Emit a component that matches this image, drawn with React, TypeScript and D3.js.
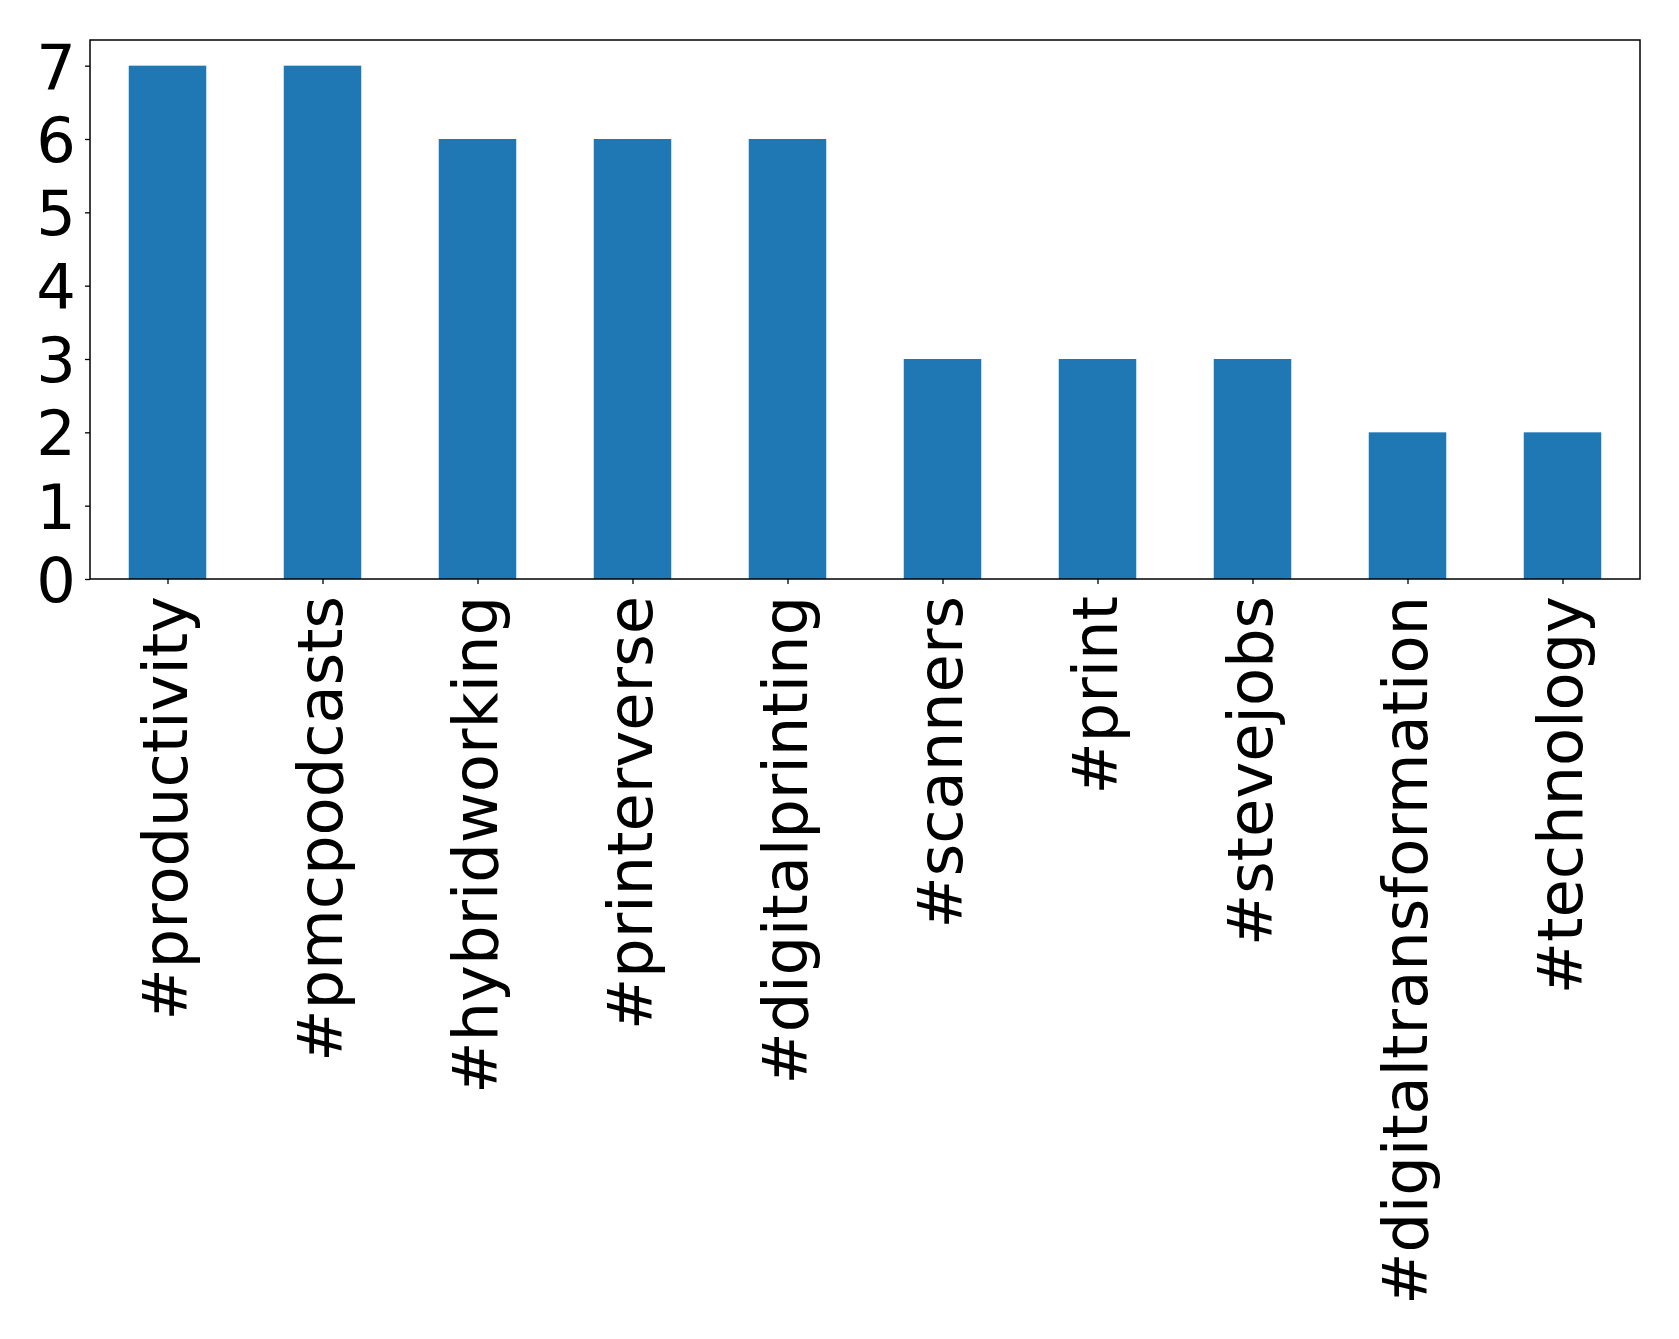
import React, { useEffect, useRef } from 'react'
import * as d3 from "d3";

const hashtags = [
  "#productivity",
  "#pmcpodcasts",
  "#hybridworking",
  "#printerverse",
  "#digitalprinting",
  "#scanners",
  "#print",
  "#stevejobs",
  "#digitaltransformation",
  "#technology",
]
const counts = [7, 7, 6, 6, 6, 3, 3, 3, 2, 2]
const yTicks = [0, 1, 2, 3, 4, 5, 6, 7]

const dimensions = {
  width: 1679,
  height: 1339,
  margin: { top: 40, right: 39, bottom: 760, left: 90 },
}
const boundedWidth = dimensions.width - dimensions.margin.left - dimensions.margin.right
const boundedHeight = dimensions.height - dimensions.margin.top - dimensions.margin.bottom
const fontSize = 62.3
const font = "DejaVu Sans, sans-serif"

const App = () => {
  const axisRef = useRef<SVGGElement>(null)

  useEffect(() => {
    document.body.style.margin = "0"
  }, [])

  // pandas-like layout: xlim (-0.5, n-0.5), bar width 0.5
  const xScale = d3.scaleLinear()
    .domain([-0.5, hashtags.length - 0.5])
    .range([0, boundedWidth])
  const barWidth = xScale(0.5) - xScale(0)

  const yScale = d3.scaleLinear()
    .domain([0, d3.max(counts)! * 1.05])
    .range([boundedHeight, 0])

  useEffect(() => {
    if (!axisRef.current) return
    const g = d3.select(axisRef.current)
    g.selectAll("*").remove()

    const yAxis = g.append("g")
      .call(d3.axisLeft(yScale).tickValues(yTicks).tickFormat(d3.format("d")).tickSize(5).tickPadding(9))
    yAxis.select(".domain").remove()
    yAxis.selectAll("line").attr("stroke", "#000").attr("stroke-width", 1.3)
    yAxis.selectAll("text")
      .attr("font-size", fontSize)
      .attr("font-family", font)
      .attr("fill", "#000")
      .attr("dy", "0.36em")

    const xAxis = g.append("g")
      .attr("transform", `translate(0,${boundedHeight})`)
      .call(d3.axisBottom(xScale).tickValues(d3.range(hashtags.length)).tickFormat(() => "").tickSize(5))
    xAxis.select(".domain").remove()
    xAxis.selectAll("line").attr("stroke", "#000").attr("stroke-width", 1.3)
  }, [])

  return (
    <svg width={dimensions.width} height={dimensions.height} style={{ display: "block", background: "#fff" }}>
      <g transform={`translate(${dimensions.margin.left},${dimensions.margin.top})`}>
        {counts.map((c, i) => (
          <rect
            key={hashtags[i]}
            x={xScale(i) - barWidth / 2}
            y={yScale(c)}
            width={barWidth}
            height={yScale(0) - yScale(c)}
            fill="#1f77b4"
          />
        ))}
        <rect x={0} y={0} width={boundedWidth} height={boundedHeight} fill="none" stroke="#000" strokeWidth={1.5} />
        <g ref={axisRef} />
        {hashtags.map((h, i) => (
          <text
            key={h}
            transform={`translate(${xScale(i) - 2},${boundedHeight + 17}) rotate(-90)`}
            textAnchor="end"
            dominantBaseline="central"
            fontSize={fontSize}
            fontFamily={font}
            fill="#000"
          >
            {h}
          </text>
        ))}
      </g>
    </svg>
  )
}

export default App
